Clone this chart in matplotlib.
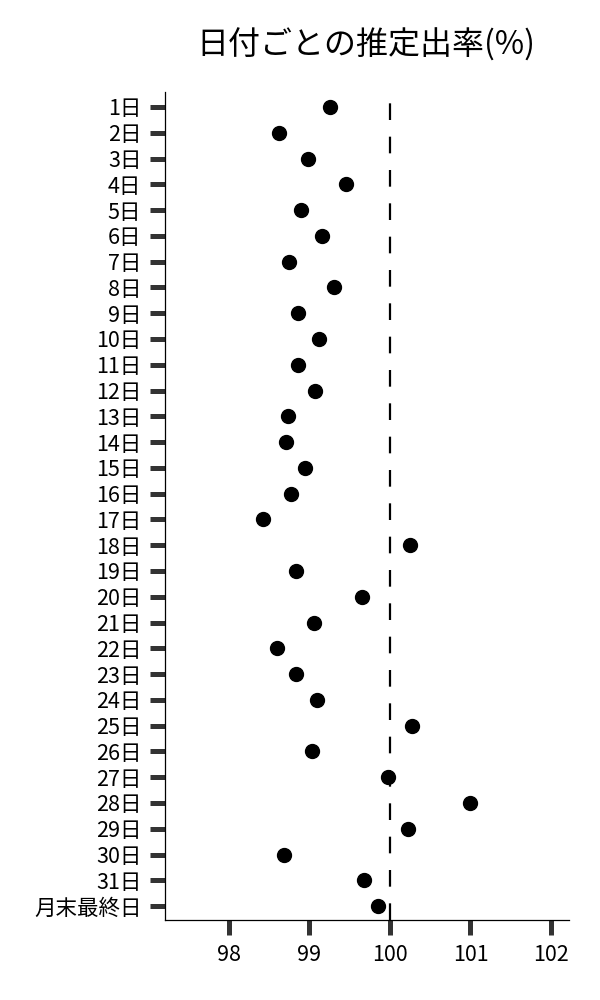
import matplotlib
matplotlib.use("Agg")
import matplotlib.pyplot as plt

plt.rcParams['font.family'] = ['Noto Sans CJK JP', 'DejaVu Sans']

# labels (top to bottom) and estimated rates
days = [f"{d}日" for d in range(1, 32)] + ["月末最終日"]
rates = [99.26, 98.63, 98.99, 99.45, 98.90, 99.16, 98.75, 99.31, 98.86, 99.12,
         98.86, 99.07, 98.74, 98.71, 98.95, 98.77, 98.43, 100.25, 98.84, 99.65,
         99.06, 98.60, 98.83, 99.09, 100.28, 99.03, 99.98, 101.00, 100.22, 98.69,
         99.68, 99.85]
x_ticks = [98, 99, 100, 101, 102]
ref_value = 100

fig = plt.figure(figsize=(6, 10), dpi=100)
ax = fig.add_axes([0.275, 0.08, 0.673, 0.828])

ypos = list(range(len(days)))
ax.scatter(rates, ypos, s=100, color='black', zorder=3)
ax.axvline(ref_value, color='black', lw=1.6, linestyle=(0, (7.5, 7.5)), zorder=2)

ax.set_yticks(ypos)
ax.set_yticklabels(days)
ax.set_xticks(x_ticks)
ax.set_xlim(97.21, 102.22)
ax.set_ylim(len(days) - 1 + 0.54, -0.58)

ax.tick_params(axis='both', length=11, width=3.6, color='#333333', labelsize=15.5, pad=6)
for side in ['top', 'right']:
    ax.spines[side].set_visible(False)
for side in ['left', 'bottom']:
    ax.spines[side].set_linewidth(0.9)
    ax.spines[side].set_color('black')

fig.suptitle("日付ごとの推定出率(%)", fontsize=23, x=0.61, y=0.972)

fig.savefig("out.png", dpi=100)
